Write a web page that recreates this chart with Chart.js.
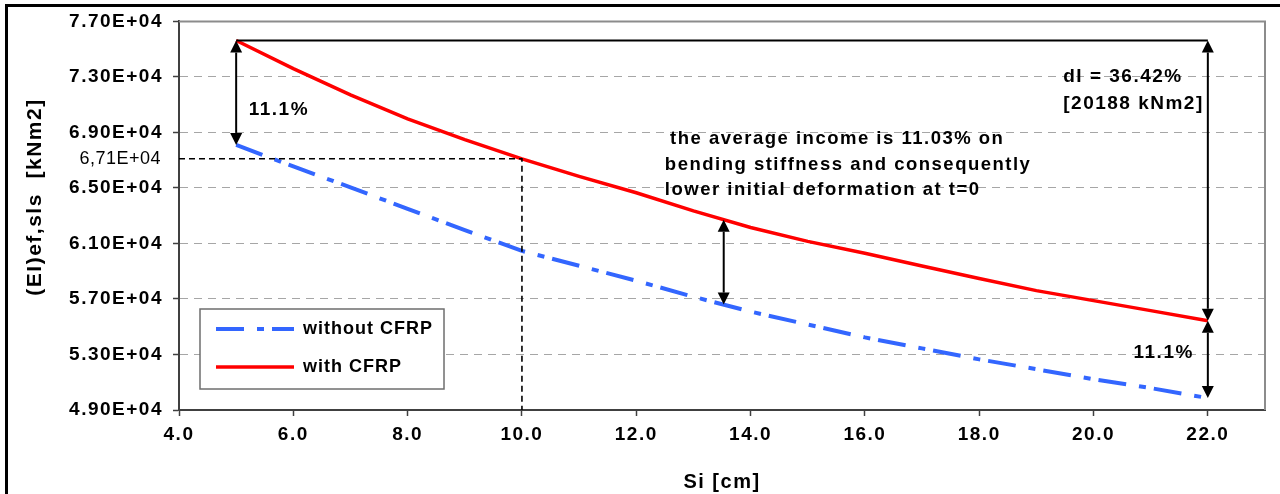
<!DOCTYPE html>
<html>
<head>
<meta charset="utf-8">
<script src="https://cdn.jsdelivr.net/npm/chart.js@4.4.1/dist/chart.umd.min.js"></script>
<style>
  html, body { margin: 0; padding: 0; background: #fff; }
  #wrap { position: relative; width: 1280px; height: 494px; }
</style>
</head>
<body>
<div id="wrap"><canvas id="stiffnessChart" width="1280" height="494"></canvas></div>
<script>
// Si [cm]
const spacings = [5, 6, 7, 8, 9, 10, 11, 12, 13, 14, 15, 16, 17, 18, 19, 20, 21, 22];
// (EI)ef,sls [kNm2]
const withoutCfrp = [68100, 66550, 65040, 63500, 61960, 60460, 59390, 58310, 57160,
                     56090, 55160, 54230, 53440, 52650, 51940, 51220, 50580, 49860];
const withCfrp = [75620, 73600, 71700, 69980, 68480, 67100, 65830, 64650, 63350,
                  62150, 61150, 60300, 59380, 58480, 57600, 56880, 56160, 55430];

const xTicks = [4, 6, 8, 10, 12, 14, 16, 18, 20, 22];
const yTicks = [49000, 53000, 57000, 61000, 65000, 69000, 73000, 77000];

// marked reference value at Si = 10 cm
const markSpacing = 10;
const markValue = 67100;
const markLabel = '6,71E+04';
const midArrowAt = 13.53;

const FONT = "'Liberation Sans', Arial, sans-serif";

function toPoints(xs, ys) {
    return xs.map((x, i) => ({ x: x, y: ys[i] }));
}

function interp(xs, ys, x) {
    for (let i = 0; i < xs.length - 1; i++) {
        if (x >= xs[i] && x <= xs[i + 1]) {
            const t = (x - xs[i]) / (xs[i + 1] - xs[i]);
            return ys[i] + t * (ys[i + 1] - ys[i]);
        }
    }
    return ys[ys.length - 1];
}

function fmtExp(v) {
    return (v / 10000).toFixed(2) + 'E+04';
}

function arrow(ctx, x, y1, y2) {
    const head = 12, half = 6;
    const dir = y2 > y1 ? 1 : -1;
    ctx.save();
    ctx.strokeStyle = '#000';
    ctx.fillStyle = '#000';
    ctx.lineWidth = 2;
    ctx.setLineDash([]);
    ctx.beginPath();
    ctx.moveTo(x, y1 + dir * head);
    ctx.lineTo(x, y2 - dir * head);
    ctx.stroke();
    ctx.beginPath();
    ctx.moveTo(x, y1);
    ctx.lineTo(x - half, y1 + dir * head);
    ctx.lineTo(x + half, y1 + dir * head);
    ctx.closePath();
    ctx.fill();
    ctx.beginPath();
    ctx.moveTo(x, y2);
    ctx.lineTo(x - half, y2 - dir * head);
    ctx.lineTo(x + half, y2 - dir * head);
    ctx.closePath();
    ctx.fill();
    ctx.restore();
}

function text(ctx, str, x, y, align, font) {
    ctx.save();
    ctx.font = font || ('bold 19px ' + FONT);
    ctx.fillStyle = '#000';
    ctx.textAlign = align || 'left';
    ctx.textBaseline = 'middle';
    ctx.fillText(str, x, y);
    ctx.restore();
}

const annotate = {
    id: 'annotate',
    beforeDraw(chart) {
        chart.ctx.letterSpacing = '1.5px';
    },
    afterDatasetsDraw(chart) {
        const ctx = chart.ctx;
        const xs = chart.scales.x, ys = chart.scales.y;
        const area = chart.chartArea;
        const first = spacings[0], last = spacings[spacings.length - 1];

        // reference value guide lines
        ctx.save();
        ctx.strokeStyle = '#000';
        ctx.lineWidth = 1.6;
        ctx.setLineDash([6, 4]);
        ctx.beginPath();
        ctx.moveTo(area.left, ys.getPixelForValue(markValue));
        ctx.lineTo(xs.getPixelForValue(markSpacing), ys.getPixelForValue(markValue));
        ctx.lineTo(xs.getPixelForValue(markSpacing), area.bottom);
        ctx.stroke();
        ctx.restore();
        ctx.save();
        ctx.letterSpacing = '0.5px';
        text(ctx, markLabel, area.left - 18, ys.getPixelForValue(markValue), 'right', '18px ' + FONT);
        ctx.restore();

        // top reference line
        const topY = ys.getPixelForValue(withCfrp[0]);
        ctx.save();
        ctx.strokeStyle = '#000';
        ctx.lineWidth = 2;
        ctx.beginPath();
        ctx.moveTo(xs.getPixelForValue(first), topY);
        ctx.lineTo(xs.getPixelForValue(last), topY);
        ctx.stroke();
        ctx.restore();

        const n = spacings.length - 1;
        arrow(ctx, xs.getPixelForValue(first), topY, ys.getPixelForValue(withoutCfrp[0]));
        arrow(ctx, xs.getPixelForValue(last), topY, ys.getPixelForValue(withCfrp[n]));
        arrow(ctx, xs.getPixelForValue(last), ys.getPixelForValue(withCfrp[n]), ys.getPixelForValue(withoutCfrp[n]));
        arrow(ctx, xs.getPixelForValue(midArrowAt),
              ys.getPixelForValue(interp(spacings, withCfrp, midArrowAt)),
              ys.getPixelForValue(interp(spacings, withoutCfrp, midArrowAt)));

        const midFont = 'bold 18.5px ' + FONT;
        text(ctx, '11.1%', xs.getPixelForValue(5.22), ys.getPixelForValue(70650));
        text(ctx, 'dI = 36.42%', xs.getPixelForValue(19.47), ys.getPixelForValue(73000));
        text(ctx, '[20188 kNm2]', xs.getPixelForValue(19.47), ys.getPixelForValue(71060));
        text(ctx, '11.1%', xs.getPixelForValue(20.7), ys.getPixelForValue(53150));
        text(ctx, 'the average income is 11.03% on', xs.getPixelForValue(12.59), ys.getPixelForValue(68550), 'left', midFont);
        text(ctx, 'bending stiffness and consequently', xs.getPixelForValue(12.5), ys.getPixelForValue(66690), 'left', midFont);
        text(ctx, 'lower initial deformation at t=0', xs.getPixelForValue(12.5), ys.getPixelForValue(64830), 'left', midFont);
    },
    afterDraw(chart) {
        const ctx = chart.ctx;
        const area = chart.chartArea;

        // plot frame (top / right)
        ctx.save();
        ctx.strokeStyle = '#8c8c8c';
        ctx.lineWidth = 2;
        ctx.setLineDash([]);
        ctx.beginPath();
        ctx.moveTo(area.left, area.top);
        ctx.lineTo(area.right, area.top);
        ctx.lineTo(area.right, area.bottom);
        ctx.stroke();
        ctx.restore();

        // legend
        const bx = area.left + 21, by = 309, bw = 244, bh = 80;
        ctx.save();
        ctx.fillStyle = '#fff';
        ctx.fillRect(bx, by, bw, bh);
        ctx.strokeStyle = '#6e6e6e';
        ctx.lineWidth = 1.5;
        ctx.strokeRect(bx, by, bw, bh);
        ctx.letterSpacing = '1px';
        chart.data.datasets.forEach((ds, i) => {
            const y = by + 20 + i * 38;
            ctx.setLineDash(ds.borderDash || []);
            ctx.strokeStyle = ds.borderColor;
            ctx.lineWidth = ds.borderWidth;
            ctx.beginPath();
            ctx.moveTo(bx + 16, y);
            ctx.lineTo(bx + 94, y);
            ctx.stroke();
            ctx.setLineDash([]);
            text(ctx, ds.label, bx + 103, y, 'left', 'bold 18px ' + FONT);
        });
        ctx.restore();

        // y axis title
        ctx.save();
        ctx.translate(35, 197);
        ctx.rotate(-Math.PI / 2);
        text(ctx, '(EI)ef,sls  [kNm2]', 0, 0, 'center', 'bold 21px ' + FONT);
        ctx.restore();

        // outer frame
        ctx.save();
        ctx.fillStyle = '#000';
        ctx.fillRect(5, 4, 3, 494);
        ctx.fillRect(5, 4, 1280, 3);
        ctx.restore();
        ctx.letterSpacing = '0px';
    }
};

const ctx = document.getElementById('stiffnessChart').getContext('2d');
const stiffnessChart = new Chart(ctx, {
    type: 'line',
    data: {
        datasets: [
            {
                label: 'without CFRP',
                data: toPoints(spacings, withoutCfrp),
                borderColor: '#3366ff',
                borderWidth: 4,
                borderDash: [28, 13, 7, 8],
                pointRadius: 0,
                tension: 0,
                fill: false
            },
            {
                label: 'with CFRP',
                data: toPoints(spacings, withCfrp),
                borderColor: '#ff0000',
                borderWidth: 3.5,
                pointRadius: 0,
                tension: 0,
                fill: false
            }
        ]
    },
    options: {
        responsive: false,
        animation: false,
        layout: { padding: { left: 0, top: 19, right: 15, bottom: 0 } },
        plugins: {
            legend: { display: false },
            tooltip: { enabled: false }
        },
        scales: {
            x: {
                type: 'linear',
                min: 4,
                max: 23,
                afterBuildTicks: function(scale) {
                    scale.ticks = xTicks.map(v => ({ value: v }));
                },
                afterFit: function(scale) {
                    scale.height = 84;
                },
                grid: {
                    drawOnChartArea: false,
                    drawTicks: true,
                    tickLength: 6,
                    tickColor: '#404040',
                    tickWidth: 1.5
                },
                border: { display: true, color: '#404040', width: 2 },
                ticks: {
                    autoSkip: false,
                    maxRotation: 0,
                    padding: 7,
                    color: '#000',
                    font: { family: FONT, size: 19, weight: 'bold' },
                    callback: function(value) {
                        return value.toFixed(1);
                    }
                },
                title: {
                    display: true,
                    text: 'Si [cm]',
                    color: '#000',
                    font: { family: FONT, size: 20, weight: 'bold' },
                    padding: { top: 0, bottom: 0 }
                }
            },
            y: {
                type: 'linear',
                min: 49000,
                max: 77000,
                afterBuildTicks: function(scale) {
                    scale.ticks = yTicks.map(v => ({ value: v }));
                },
                afterFit: function(scale) {
                    scale.width = 179;
                },
                grid: {
                    color: '#a6a6a6',
                    lineWidth: 1,
                    drawTicks: true,
                    tickLength: 6,
                    tickColor: '#404040',
                    tickWidth: 1.5,
                    tickBorderDash: []
                },
                border: { display: true, color: '#404040', width: 2, dash: [8, 6] },
                ticks: {
                    autoSkip: false,
                    padding: 10,
                    color: '#000',
                    font: { family: FONT, size: 19, weight: 'bold' },
                    callback: function(value) {
                        return fmtExp(value);
                    }
                }
            }
        }
    },
    plugins: [annotate]
});
</script>
</body>
</html>
